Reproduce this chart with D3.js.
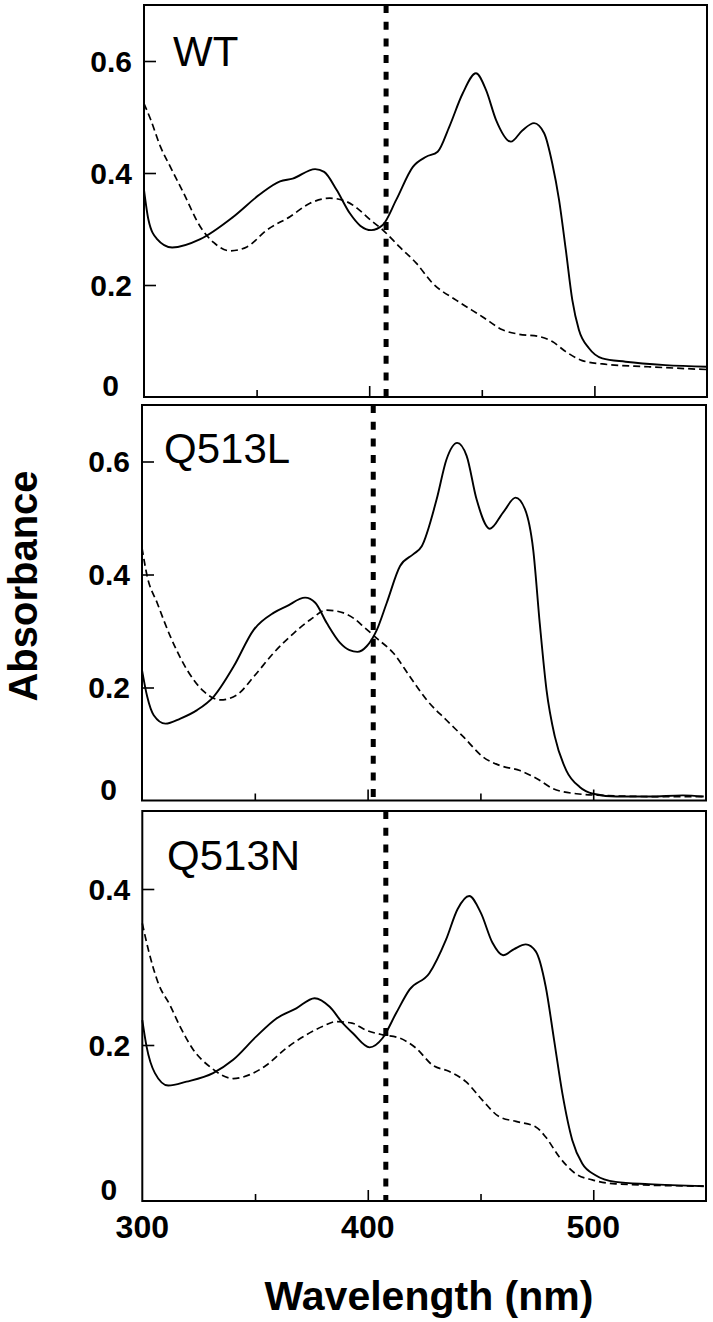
<!DOCTYPE html>
<html>
<head>
<meta charset="utf-8">
<script src="https://cdn.jsdelivr.net/npm/d3@7"></script>
<style>
  body { margin: 0; background: #fff; }
  svg text { font-family: "Liberation Sans", Arial, Helvetica, sans-serif; fill: #000; }
</style>
</head>
<body>
<svg id="chart" width="713" height="1322"></svg>
<script>
// ---- data (wavelength nm, absorbance) ----
var panel_labels = ["WT", "Q513L", "Q513N"];
var marker_nm = [407.5, 402.5, 408];      // isosbestic marker lines
var y_max = [0.7, 0.7, 0.5];
var y_ticks = [[0.2, 0.4, 0.6], [0.2, 0.4, 0.6], [0.2, 0.4]];
var x_major_ticks = [300, 400, 500];
var x_minor_ticks = [350, 450];

var wt_solid = [[300,0.37],[302,0.316],[305.6,0.283],[312.5,0.267],[325,0.282],[339.7,0.322],[351.5,0.362],[360.4,0.385],[366,0.39],[376,0.407],[380,0.402],[385.5,0.37],[391.4,0.328],[396,0.306],[401,0.298],[406,0.307],[412,0.352],[419.4,0.411],[425.3,0.429],[430.4,0.438],[435.6,0.483],[441.5,0.542],[447.4,0.578],[451.9,0.548],[456.3,0.495],[462.9,0.456],[468,0.476],[473.2,0.489],[477.7,0.471],[481.3,0.417],[484.3,0.352],[487.3,0.263],[490.2,0.173],[493.1,0.12],[497.6,0.087],[503.5,0.069],[513.8,0.063],[531.5,0.057],[550,0.054]];
var wt_dashed = [[300,0.524],[303,0.495],[307.3,0.447],[311.7,0.411],[317.6,0.364],[325,0.304],[330.9,0.276],[338.3,0.261],[345.7,0.268],[354.5,0.298],[364.8,0.322],[373.7,0.346],[382.5,0.355],[389.9,0.349],[395,0.336],[400,0.318],[406.1,0.298],[413.5,0.268],[420.9,0.239],[428.2,0.203],[438.6,0.173],[450.4,0.143],[459.2,0.12],[466.6,0.112],[475.4,0.108],[481.3,0.099],[487.3,0.081],[494.6,0.065],[503.5,0.059],[524,0.054],[550,0.049]];

var q513l_solid = [[300,0.231],[302.3,0.184],[305.2,0.151],[310.4,0.136],[317,0.145],[324.4,0.16],[331.8,0.184],[340.6,0.237],[349.5,0.302],[358.3,0.332],[364.2,0.344],[372.3,0.359],[376.8,0.35],[381.9,0.314],[387.8,0.279],[392,0.266],[395.5,0.263],[399.6,0.273],[404.1,0.302],[408.5,0.35],[414.4,0.415],[420.3,0.436],[424,0.45],[430.6,0.533],[435,0.604],[439.7,0.633],[443.9,0.61],[448.3,0.533],[454.2,0.481],[460.1,0.51],[465.6,0.536],[469.7,0.516],[473.4,0.444],[476.3,0.314],[479.3,0.196],[483,0.113],[488.1,0.053],[494,0.024],[499.9,0.012],[510.3,0.007],[525,0.007],[539.7,0.009],[549,0.007]];
var q513l_dashed = [[300,0.447],[302.3,0.397],[306.7,0.35],[312.6,0.29],[320,0.231],[327.4,0.193],[334.7,0.178],[342.1,0.187],[349.5,0.219],[358.3,0.261],[367.2,0.296],[374.6,0.32],[381.9,0.337],[389.3,0.332],[394,0.322],[398.1,0.308],[404.1,0.287],[411.4,0.261],[418.8,0.219],[426.2,0.178],[435,0.142],[442.4,0.113],[451.2,0.077],[458.6,0.062],[467.5,0.053],[474.9,0.039],[482.2,0.021],[492.6,0.012],[504.3,0.009],[526,0.007],[549,0.007]];

var q513n_solid = [[300,0.232],[301.9,0.198],[305.6,0.164],[311.5,0.148],[319.6,0.153],[331.4,0.164],[340.3,0.181],[350.6,0.211],[359.5,0.234],[368.3,0.247],[376.4,0.26],[383.1,0.249],[388.9,0.228],[393.4,0.215],[400.8,0.197],[406.6,0.209],[412.6,0.241],[418.5,0.271],[427.3,0.292],[434.7,0.335],[439.8,0.374],[445,0.391],[450.2,0.369],[455.3,0.331],[460,0.315],[464.9,0.323],[470.1,0.329],[474.5,0.32],[478.9,0.275],[482.6,0.207],[486.3,0.138],[490.7,0.078],[495.1,0.048],[501,0.033],[509.9,0.0245],[524.6,0.0216],[549,0.019]];
var q513n_dashed = [[300,0.356],[302.7,0.322],[307.1,0.279],[312.3,0.251],[316.7,0.224],[322.6,0.194],[330,0.172],[340.3,0.157],[347.7,0.162],[355,0.174],[363.9,0.196],[372.7,0.213],[380.1,0.224],[386,0.23],[393,0.228],[399.3,0.219],[406.6,0.213],[414,0.209],[421.4,0.196],[428.8,0.174],[436.2,0.166],[443.5,0.153],[450.9,0.129],[458.3,0.108],[465.7,0.102],[474.5,0.095],[478.9,0.082],[484.8,0.057],[492.2,0.035],[499.6,0.027],[509.9,0.022],[549,0.019]];

var solid_series = [wt_solid, q513l_solid, q513n_solid];
var dashed_series = [wt_dashed, q513l_dashed, q513n_dashed];

// ---- layout of the three stacked frames (pixels) ----
var frames = [
  {left: 144,   right: 707, top: 5,   bottom: 397},
  {left: 142,   right: 706, top: 405, bottom: 800.5},
  {left: 142.3, right: 706, top: 811, bottom: 1201}
];

var svg = d3.select("#chart");

frames.forEach(function (f, i) {
    var g = svg.append("g");

    var x = d3.scaleLinear().domain([300, 550]).range([f.left, f.right]);
    var y = d3.scaleLinear().domain([0, y_max[i]]).range([f.bottom, f.top]);

    // inward x ticks, long majors and short minors
    g.append("g")
        .attr("transform", "translate(0," + f.bottom + ")")
        .call(d3.axisBottom(x).tickValues(x_major_ticks.slice(1)).tickSizeInner(-11).tickSizeOuter(0).tickFormat(""));
    g.append("g")
        .attr("transform", "translate(0," + f.bottom + ")")
        .call(d3.axisBottom(x).tickValues(x_minor_ticks).tickSizeInner(-7).tickSizeOuter(0).tickFormat(""));

    // inward y ticks
    g.append("g")
        .attr("transform", "translate(" + f.left + ",0)")
        .call(d3.axisLeft(y).tickValues(y_ticks[i]).tickSizeInner(-12).tickSizeOuter(0).tickFormat(""));

    g.selectAll(".domain").remove();
    g.selectAll(".tick line").attr("stroke", "#000").attr("stroke-width", 1.6);

    // y tick labels
    g.selectAll(".ylab")
        .data(y_ticks[i])
        .enter().append("text")
        .attr("x", f.left - 12)
        .attr("y", function (d) { return y(d); })
        .attr("dy", "0.36em")
        .attr("text-anchor", "end")
        .style("font-size", "30px")
        .style("font-weight", "bold")
        .text(function (d) { return d3.format(".1f")(d); });

    // the zero label sits a bit left and above the axis
    g.append("text")
        .attr("x", f.left - 25)
        .attr("y", y(0) - 1)
        .attr("text-anchor", "end")
        .style("font-size", "30px")
        .style("font-weight", "bold")
        .text("0");

    // spectra
    var line = d3.line()
        .x(function (d) { return x(d[0]); })
        .y(function (d) { return y(d[1]); })
        .curve(d3.curveMonotoneX);

    g.append("path")
        .datum(dashed_series[i])
        .attr("d", line)
        .attr("fill", "none")
        .attr("stroke", "#000")
        .attr("stroke-width", 1.7)
        .attr("stroke-dasharray", "7,4");

    g.append("path")
        .datum(solid_series[i])
        .attr("d", line)
        .attr("fill", "none")
        .attr("stroke", "#000")
        .attr("stroke-width", 1.9);

    // thick dotted marker line
    g.append("line")
        .attr("x1", x(marker_nm[i])).attr("x2", x(marker_nm[i]))
        .attr("y1", f.top).attr("y2", f.bottom)
        .attr("stroke", "#000")
        .attr("stroke-width", 5)
        .attr("stroke-dasharray", "8,8.7");

    // frame
    g.append("rect")
        .attr("x", f.left).attr("y", f.top)
        .attr("width", f.right - f.left).attr("height", f.bottom - f.top)
        .attr("fill", "none")
        .attr("stroke", "#000")
        .attr("stroke-width", 2);

    // panel label
    g.append("text")
        .attr("x", [173, 164, 167][i])
        .attr("y", [66, 463, 870][i])
        .style("font-size", "42px")
        .text(panel_labels[i]);

    // x tick labels only under the last frame
    if (i === frames.length - 1) {
        g.selectAll(".xlab")
            .data(x_major_ticks)
            .enter().append("text")
            .attr("x", function (d) { return x(d); })
            .attr("y", 1238)
            .attr("text-anchor", "middle")
            .style("font-size", "32px")
            .style("font-weight", "bold")
            .text(function (d) { return d; });
    }
});

// axis titles
svg.append("text")
    .attr("x", 429).attr("y", 1310)
    .attr("text-anchor", "middle")
    .style("font-size", "41px")
    .style("font-weight", "bold")
    .text("Wavelength (nm)");

svg.append("text")
    .attr("transform", "translate(37,586) rotate(-90)")
    .attr("text-anchor", "middle")
    .style("font-size", "40px")
    .style("font-weight", "bold")
    .text("Absorbance");
</script>
</body>
</html>
